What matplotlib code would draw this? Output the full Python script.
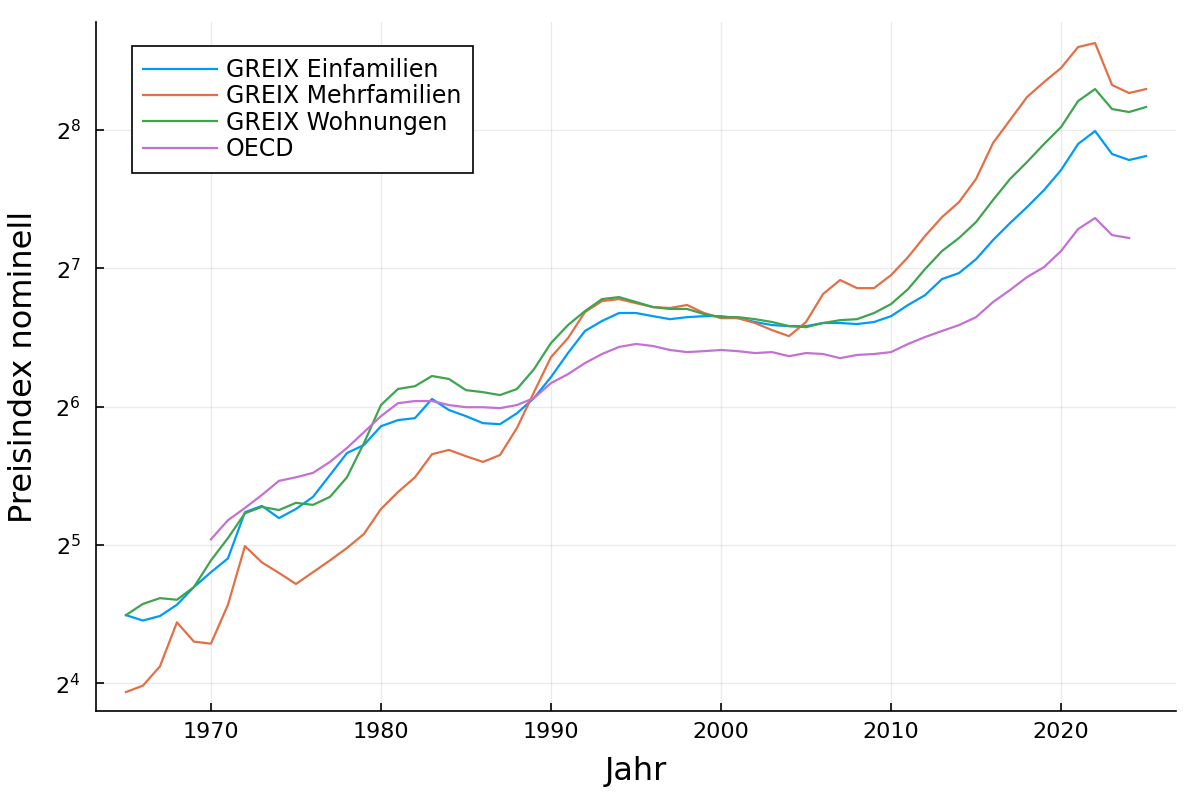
import matplotlib
matplotlib.use("Agg")
import matplotlib.pyplot as plt
from matplotlib.ticker import FixedLocator, NullLocator

# Preisindex nominell, Jahreswerte
years = list(range(1965, 2026))
oecd_years = list(range(1970, 2025))

einfamilien = [
    22.5, 21.9, 22.4, 23.7, 25.9, 27.9, 29.9, 37.7, 38.9, 36.6,
    38.3, 40.7, 45.4, 50.7, 52.8, 58.0, 59.8, 60.4, 66.5, 62.9,
    61.0, 58.9, 58.6, 61.9, 66.8, 74.2, 83.7, 93.5, 98.3, 102.3,
    102.3, 100.7, 99.2, 100.2, 100.7, 100.7, 99.7, 97.8, 96.3, 95.8,
    95.8, 97.3, 97.3, 96.8, 97.8, 100.7, 106.5, 111.9, 121.3, 125.0,
    134.0, 147.5, 160.6, 174.0, 189.5, 209.5, 238.7, 254.7, 227.0, 220.3,
    224.7,
]
mehrfamilien = [
    15.3, 15.8, 17.4, 21.7, 19.7, 19.5, 23.7, 31.8, 29.3, 27.8,
    26.3, 27.9, 29.6, 31.5, 33.8, 38.3, 41.7, 44.9, 50.4, 51.5,
    49.9, 48.5, 50.2, 57.5, 68.8, 82.0, 90.2, 102.8, 108.6, 109.7,
    107.5, 105.4, 104.9, 106.5, 102.3, 99.7, 99.7, 97.3, 93.9, 91.1,
    97.8, 112.5, 120.7, 115.9, 115.9, 123.7, 135.4, 150.5, 165.5, 178.4,
    200.3, 239.9, 269.2, 302.1, 325.7, 349.4, 388.1, 396.0, 320.8, 308.2,
    314.4,
]
wohnungen = [
    22.5, 23.8, 24.5, 24.3, 25.9, 29.6, 33.1, 37.5, 38.7, 38.1,
    39.5, 39.1, 40.7, 44.9, 53.3, 64.5, 69.9, 70.9, 74.6, 73.5,
    69.5, 68.8, 67.8, 69.9, 77.2, 88.0, 96.3, 103.3, 109.7, 110.8,
    108.1, 105.4, 104.4, 104.4, 101.8, 100.2, 100.2, 99.2, 97.8, 95.8,
    95.3, 97.3, 98.7, 99.2, 102.3, 107.0, 115.3, 127.5, 139.6, 149.0,
    161.4, 180.3, 200.3, 218.1, 238.7, 259.9, 296.0, 314.4, 284.4, 280.2,
    287.3,
]
oecd = [
    32.9, 36.2, 38.5, 41.1, 44.1, 44.9, 45.9, 48.5, 52.0, 56.3,
    61.0, 65.1, 65.8, 65.8, 64.5, 63.8, 63.8, 63.5, 64.5, 66.8,
    72.0, 75.3, 79.6, 83.3, 86.3, 87.6, 86.7, 85.0, 84.1, 84.5,
    85.0, 84.5, 83.7, 84.1, 82.4, 83.7, 83.3, 81.6, 82.9, 83.3,
    84.1, 87.6, 90.7, 93.5, 96.3, 100.2, 108.1, 114.8, 122.5, 128.8,
    139.6, 155.8, 164.7, 151.2, 149.0,
]

series = [
    ("GREIX Einfamilien", years, einfamilien, "#009AFA"),
    ("GREIX Mehrfamilien", years, mehrfamilien, "#E36F47"),
    ("GREIX Wohnungen", years, wohnungen, "#3EA44E"),
    ("OECD", oecd_years, oecd, "#C371D2"),
]

x_ticks = [1970, 1980, 1990, 2000, 2010, 2020]
y_exponents = [4, 5, 6, 7, 8]

fig, ax = plt.subplots(figsize=(12, 8), dpi=100)
fig.subplots_adjust(left=0.08, right=0.98, bottom=0.111, top=0.9725)

for label, xs, ys, color in series:
    ax.plot(xs, ys, color=color, linewidth=1.6, label=label)

ax.set_yscale("log", base=2)
ax.set_xlim(1963.24, 2026.76)
ax.set_ylim(13.9, 440)

ax.xaxis.set_major_locator(FixedLocator(x_ticks))
ax.set_xticklabels([str(t) for t in x_ticks])
ax.yaxis.set_major_locator(FixedLocator([2 ** e for e in y_exponents]))
ax.yaxis.set_minor_locator(NullLocator())
ax.set_yticklabels([rf"$2^{{{e}}}$" for e in y_exponents])

ax.tick_params(axis="both", direction="in", length=6, width=1.2, colors="black")
ax.tick_params(axis="x", labelsize=16, pad=8)
ax.tick_params(axis="y", labelsize=16, pad=11)
ax.grid(True, color="black", alpha=0.08, linewidth=1)

for side in ("top", "right"):
    ax.spines[side].set_visible(False)
for side in ("left", "bottom"):
    ax.spines[side].set_linewidth(1.2)

ax.set_xlabel("Jahr", fontsize=23, labelpad=10)
ax.set_ylabel("Preisindex nominell", fontsize=23, labelpad=12)

leg = ax.legend(loc="upper left", bbox_to_anchor=(0.033, 0.965), borderaxespad=0,
                fontsize=17, fancybox=False, framealpha=1, edgecolor="black",
                handlelength=3.1, handletextpad=0.4, labelspacing=0.1,
                borderpad=0.5)
leg.get_frame().set_linewidth(1.2)

fig.savefig("out.png", dpi=100)
